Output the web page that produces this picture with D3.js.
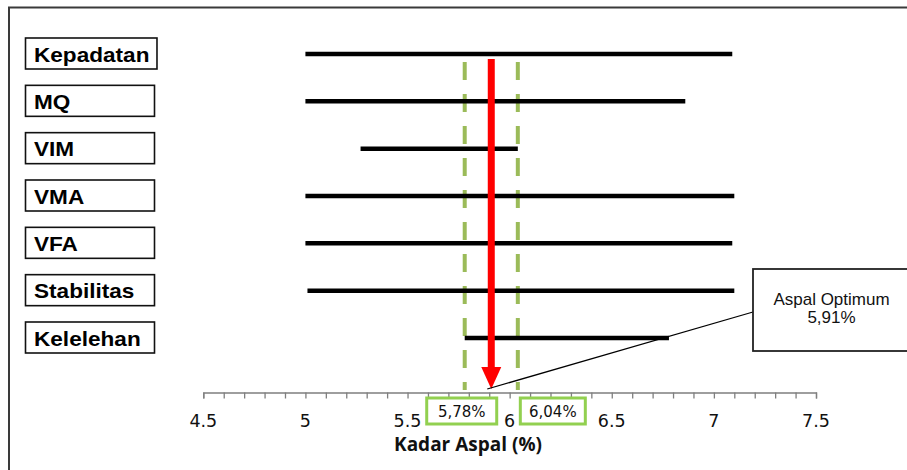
<!DOCTYPE html>
<html>
<head>
    <script src="https://d3js.org/d3.v7.min.js"></script>
    <style>
        body { margin: 0; background: #fff; }
    </style>
</head>
<body>

<script>
// parameter ranges that meet the spec (kadar aspal, %)
const params = ['Kepadatan', 'MQ', 'VIM', 'VMA', 'VFA', 'Stabilitas', 'Kelelehan'];
const rangeMin = [5.0, 5.0, 5.27, 5.0, 5.0, 5.01, 5.78];
const rangeMax = [7.09, 6.86, 6.04, 7.10, 7.09, 7.10, 6.78];
const xTickLabels = [4.5, 5, 5.5, 6, 6.5, 7, 7.5];
const bandLimits = [5.78, 6.04];
const bandLabels = ['5,78%', '6,04%'];
const optimum = 5.91;
const optimumLabel = ['Aspal Optimum', '5,91%'];

const width = 907, height = 470;
const axisY = 392.5;
const axisFont = 'DejaVu Sans, Verdana, sans-serif';

const svg = d3.select('body')
    .append('svg')
    .attr('width', width)
    .attr('height', height);

const defs = svg.append('defs');
defs.append('filter').attr('id', 'soft')
    .append('feGaussianBlur').attr('stdDeviation', 0.7);

// outer frame (only left and top visible)
svg.append('rect')
    .attr('x', 9).attr('y', 7.5)
    .attr('width', 1200).attr('height', 1200)
    .attr('fill', 'none')
    .attr('stroke', '#3a3a3a')
    .attr('stroke-width', 2);

const x = d3.scaleLinear()
    .domain([4.5, 7.5])
    .range([203.3, 816]);

const y = d3.scalePoint()
    .domain(params)
    .range([54, 338]);

// green dashed limits
const dash = svg.append('g');
bandLimits.forEach(v => {
    dash.append('line')
        .attr('x1', x(v) + 1).attr('x2', x(v) + 1)
        .attr('y1', 62).attr('y2', 392)
        .attr('stroke', '#c4c4c4')
        .attr('stroke-width', 4)
        .attr('stroke-dasharray', '18 14')
        .attr('stroke-dashoffset', -4)
        .attr('filter', 'url(#soft)');
    dash.append('line')
        .attr('x1', x(v)).attr('x2', x(v))
        .attr('y1', 62).attr('y2', 390)
        .attr('stroke', '#9BBB59')
        .attr('stroke-width', 4)
        .attr('stroke-dasharray', '18 14');
});

// range bars with shadow
const bars = svg.append('g');
bars.selectAll('line.shadow')
    .data(params)
    .enter()
    .append('line')
    .attr('class', 'shadow')
    .attr('x1', (d, i) => x(rangeMin[i]) + 1)
    .attr('x2', (d, i) => x(rangeMax[i]) + 1.5)
    .attr('y1', d => y(d) + 3.5)
    .attr('y2', d => y(d) + 3.5)
    .attr('stroke', '#a8a8a8')
    .attr('stroke-width', 4)
    .attr('filter', 'url(#soft)');

bars.selectAll('line.bar')
    .data(params)
    .enter()
    .append('line')
    .attr('class', 'bar')
    .attr('x1', (d, i) => x(rangeMin[i]))
    .attr('x2', (d, i) => x(rangeMax[i]))
    .attr('y1', d => y(d))
    .attr('y2', d => y(d))
    .attr('stroke', '#000')
    .attr('stroke-width', 4.5);

// red arrow at optimum
const ox = x(optimum);
svg.append('line')
    .attr('x1', ox).attr('x2', ox)
    .attr('y1', 59).attr('y2', 368)
    .attr('stroke', '#FF0000')
    .attr('stroke-width', 7);
svg.append('path')
    .attr('d', `M${ox - 10},367 L${ox + 10},367 L${ox},389 Z`)
    .attr('fill', '#FF0000');

// parameter label boxes
const labels = svg.append('g');
params.forEach(p => {
    const g = labels.append('g');
    const rect = g.append('rect')
        .attr('x', 25.5)
        .attr('y', y(p) - 16)
        .attr('height', 31)
        .attr('fill', '#fff')
        .attr('stroke', '#111')
        .attr('stroke-width', 1.6);
    const t = g.append('text')
        .attr('transform', `translate(34,${y(p) + 7.5}) scale(1.13,1)`)
        .attr('font-family', 'Liberation Sans, Arial, sans-serif')
        .attr('font-weight', 'bold')
        .attr('font-size', 20)
        .attr('fill', '#000')
        .text(p);
    const w = t.node().getComputedTextLength() * 1.13;
    rect.attr('width', Math.max(129, w + 16));
});

// x axis
const axis = d3.axisBottom(x)
    .tickValues(d3.range(45, 76).map(d => d / 10))
    .tickSize(6)
    .tickFormat('');
const ax = svg.append('g')
    .attr('transform', `translate(0,${axisY})`)
    .call(axis);
ax.select('.domain').attr('stroke', '#7f7f7f').attr('stroke-width', 1.3);
ax.selectAll('.tick line').attr('stroke', '#7f7f7f').attr('stroke-width', 1.3);

svg.selectAll('text.xlab')
    .data(xTickLabels)
    .enter()
    .append('text')
    .attr('class', 'xlab')
    .attr('x', d => x(d))
    .attr('y', 426.5)
    .attr('text-anchor', 'middle')
    .attr('font-family', axisFont)
    .attr('font-size', 17.5)
    .attr('fill', '#111')
    .text(d => d);

svg.append('text')
    .attr('x', 468)
    .attr('y', 450.5)
    .attr('text-anchor', 'middle')
    .attr('font-family', 'Open Sans, sans-serif')
    .attr('font-weight', 'bold')
    .attr('font-size', 19)
    .attr('fill', '#111')
    .text('Kadar Aspal (%)');

// green value boxes under the axis
const boxShift = [-3, 35];
const boxW = [70, 65];
bandLimits.forEach((v, i) => {
    const cx = x(v) + boxShift[i];
    svg.append('rect')
        .attr('x', cx - boxW[i] / 2)
        .attr('y', 398)
        .attr('width', boxW[i])
        .attr('height', 26)
        .attr('fill', '#fff')
        .attr('stroke', '#92D050')
        .attr('stroke-width', 3);
    svg.append('text')
        .attr('x', cx)
        .attr('y', 417)
        .attr('text-anchor', 'middle')
        .attr('font-family', axisFont)
        .attr('font-size', 15)
        .attr('fill', '#111')
        .text(bandLabels[i]);
});

// callout for optimum
svg.append('line')
    .attr('x1', ox - 4).attr('y1', 389)
    .attr('x2', 753).attr('y2', 312)
    .attr('stroke', '#000')
    .attr('stroke-width', 1.3);
svg.append('rect')
    .attr('x', 753).attr('y', 269)
    .attr('width', 160).attr('height', 82)
    .attr('fill', '#fff')
    .attr('stroke', '#222')
    .attr('stroke-width', 1.8);
svg.append('text')
    .attr('x', 831.5)
    .attr('y', 304.5)
    .attr('text-anchor', 'middle')
    .attr('font-family', 'Liberation Sans, Arial, sans-serif')
    .attr('font-size', 17)
    .attr('fill', '#111')
    .selectAll('tspan')
    .data(optimumLabel)
    .enter()
    .append('tspan')
    .attr('x', 831.5)
    .attr('dy', (d, i) => i === 0 ? 0 : 18)
    .text(d => d);
</script>

</body>
</html>
